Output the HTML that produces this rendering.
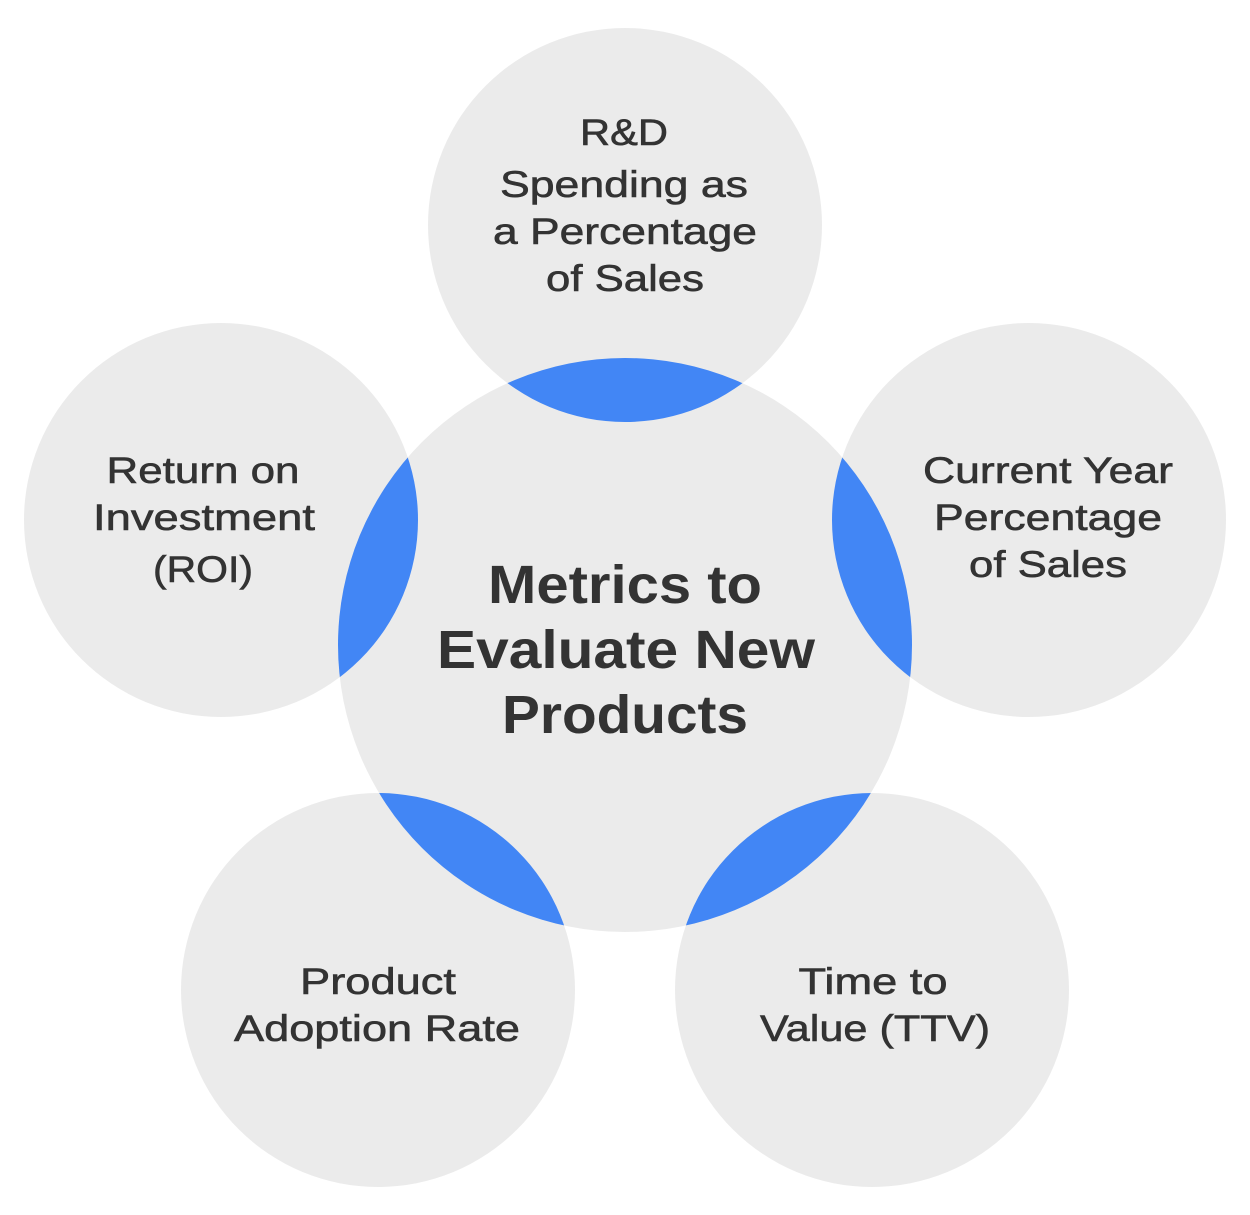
<!DOCTYPE html>
<html><head><style>
html,body{margin:0;padding:0;background:#fff;}
svg{display:block;}
text{font-family:"Liberation Sans",Arial,sans-serif;fill:#333;text-anchor:middle;}
.s text{font-size:37px;stroke:#333;stroke-width:0.6px;}
.c text{font-size:54px;font-weight:bold;}
</style></head><body>
<svg width="1250" height="1215" viewBox="0 0 1250 1215">
<defs>
<clipPath id="cc"><circle cx="625" cy="645" r="287"/></clipPath>
</defs>
<g fill="#ebebeb">
<circle cx="625" cy="225" r="197"/>
<circle cx="1029" cy="520" r="197"/>
<circle cx="221" cy="520" r="197"/>
<circle cx="378" cy="990" r="197"/>
<circle cx="872" cy="990" r="197"/>
<circle cx="625" cy="645" r="287"/>
</g>
<g fill="#4286f5" clip-path="url(#cc)">
<circle cx="625" cy="225" r="197"/>
<circle cx="1029" cy="520" r="197"/>
<circle cx="221" cy="520" r="197"/>
<circle cx="378" cy="990" r="197"/>
<circle cx="872" cy="990" r="197"/>
</g>
<g class="s">
<text x="624" y="145" textLength="88" lengthAdjust="spacingAndGlyphs">R&amp;D</text>
<text x="624" y="197" textLength="248" lengthAdjust="spacingAndGlyphs">Spending as</text>
<text x="625" y="244" textLength="264" lengthAdjust="spacingAndGlyphs">a Percentage</text>
<text x="625" y="291" textLength="158" lengthAdjust="spacingAndGlyphs">of Sales</text>
<text x="1048" y="483" textLength="250" lengthAdjust="spacingAndGlyphs">Current Year</text>
<text x="1048" y="530" textLength="228" lengthAdjust="spacingAndGlyphs">Percentage</text>
<text x="1048" y="577" textLength="158" lengthAdjust="spacingAndGlyphs">of Sales</text>
<text x="203" y="483" textLength="193" lengthAdjust="spacingAndGlyphs">Return on</text>
<text x="204" y="530" textLength="222" lengthAdjust="spacingAndGlyphs">Investment</text>
<text x="203" y="582" textLength="100" lengthAdjust="spacingAndGlyphs">(ROI)</text>
<text x="378" y="994" textLength="156" lengthAdjust="spacingAndGlyphs">Product</text>
<text x="377" y="1041" textLength="286" lengthAdjust="spacingAndGlyphs">Adoption Rate</text>
<text x="873" y="994" textLength="149" lengthAdjust="spacingAndGlyphs">Time to</text>
<text x="875" y="1041" textLength="230" lengthAdjust="spacingAndGlyphs">Value (TTV)</text>
</g>
<g class="c">
<text x="625" y="603" textLength="274" lengthAdjust="spacingAndGlyphs">Metrics to</text>
<text x="626" y="668" textLength="378" lengthAdjust="spacingAndGlyphs">Evaluate New</text>
<text x="625" y="733" textLength="246" lengthAdjust="spacingAndGlyphs">Products</text>
</g>
</svg>
</body></html>
